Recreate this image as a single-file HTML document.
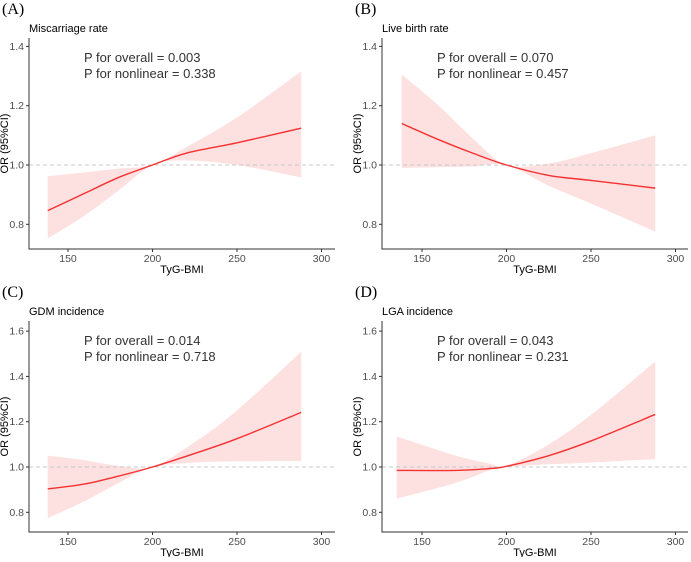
<!DOCTYPE html>
<html><head><meta charset="utf-8"><style>
body{margin:0;background:#fff;}
svg text{font-family:"Liberation Sans",sans-serif;}
</style></head><body>
<svg id="fig" width="691" height="557" viewBox="0 0 691 557" xmlns="http://www.w3.org/2000/svg"></svg>
<script>
// Panel A: Miscarriage rate
const xA = [138,160,180,200,220,250,288];
const lineA = [0.846,0.905,0.958,1.0,1.04,1.075,1.124];
const upA = [0.962,0.975,0.988,1.0,1.06,1.16,1.316];
const loA = [0.752,0.83,0.915,1.0,1.015,1.0,0.958];
// Panel B: Live birth rate
const xB = [138,160,180,200,225,250,288];
const lineB = [1.14,1.085,1.04,1.0,0.965,0.948,0.922];
const upB = [1.305,1.2,1.09,1.0,1.005,1.04,1.10];
const loB = [0.99,0.993,0.995,1.0,0.93,0.87,0.775];
// Panel C: GDM incidence
const xC = [138,160,180,200,225,250,288];
const lineC = [0.903,0.925,0.96,1.0,1.06,1.125,1.241];
const upC = [1.05,1.03,1.005,1.0,1.11,1.25,1.509];
const loC = [0.774,0.85,0.93,1.0,1.02,1.025,1.026];
// Panel D: LGA incidence
const xD = [135,170,190,200,225,250,288];
const lineD = [0.985,0.985,0.993,1.003,1.05,1.115,1.232];
const upD = [1.135,1.05,1.015,1.005,1.10,1.23,1.465];
const loD = [0.86,0.93,0.985,1.0,1.012,1.02,1.035];
const xTicks = [150,200,250,300];
const yTicksTop = [0.8,1.0,1.2,1.4];
const yTicksBot = [0.8,1.0,1.2,1.4,1.6];

const NS="http://www.w3.org/2000/svg";
const svg=document.getElementById('fig');
function mk(tag,attrs,parent){const e=document.createElementNS(NS,tag);for(const k in attrs)e.setAttribute(k,attrs[k]);(parent||svg).appendChild(e);return e;}
// Catmull-Rom smoothing of screen points -> path segments (without initial M)
function smooth(pts){
  let d='';
  for(let i=0;i<pts.length-1;i++){
    const p0=pts[Math.max(0,i-1)],p1=pts[i],p2=pts[i+1],p3=pts[Math.min(pts.length-1,i+2)];
    const c1=[p1[0]+(p2[0]-p0[0])/6,p1[1]+(p2[1]-p0[1])/6];
    const c2=[p2[0]-(p3[0]-p1[0])/6,p2[1]-(p3[1]-p1[1])/6];
    d+=`C${c1[0]},${c1[1]} ${c2[0]},${c2[1]} ${p2[0]},${p2[1]}`;
  }
  return d;
}

function panel(cfg){
  const g=mk('g',{});
  
  
  const sx=v=>cfg.x150+(v-150)*1.69;
  const sy=v=>cfg.y1+(1-v)*cfg.ky;
  const L=mk('text',{x:cfg.left-27,y:cfg.top-24,'font-size':16,fill:'#000',style:'font-family:"Liberation Serif",serif'},g);
  L.textContent=cfg.letter;
  
  
  const T=mk('text',{x:cfg.left,y:cfg.top-6,'font-size':11,fill:'#000'},g);
  T.textContent=cfg.title;
  
  
  // ribbon
  const up=cfg.xs.map((x,i)=>[sx(x),sy(cfg.up[i])]);
  const lo=cfg.xs.map((x,i)=>[sx(x),sy(cfg.lo[i])]).reverse();
  const d='M'+up[0][0]+','+up[0][1]+smooth(up)+'L'+lo[0][0]+','+lo[0][1]+smooth(lo)+'Z';
  const rib=mk('path',{d:d,fill:'#fde0e0'},g);
  
  
  const ref=mk('line',{x1:cfg.left,x2:cfg.right,y1:sy(1),y2:sy(1),stroke:'#c8c8c8','stroke-dasharray':'4,3','stroke-width':1},g);
  
  
  const lp=cfg.xs.map((x,i)=>[sx(x),sy(cfg.line[i])]);
  const ln=mk('path',{d:'M'+lp[0][0]+','+lp[0][1]+smooth(lp),fill:'none',stroke:'#f53030','stroke-width':1.4},g);
  
  
  const ax=mk('path',{d:`M${cfg.left},${cfg.top}V${cfg.bottom}H${cfg.right}`,fill:'none',stroke:'#333','stroke-width':1},g);
  
  
  cfg.yt.forEach(v=>{
    mk('line',{x1:cfg.left-3,x2:cfg.left,y1:sy(v),y2:sy(v),stroke:'#333'},g);
    const t=mk('text',{x:cfg.left-5,y:sy(v)+3.5,'font-size':10.5,fill:'#4d4d4d','text-anchor':'end'},g);
    t.textContent=v.toFixed(1);
    
    
  });
  xTicks.forEach(v=>{
    mk('line',{x1:sx(v),x2:sx(v),y1:cfg.bottom,y2:cfg.bottom+3,stroke:'#333'},g);
    const t=mk('text',{x:sx(v),y:cfg.bottom+13,'font-size':10.5,fill:'#4d4d4d','text-anchor':'middle'},g);
    t.textContent=v;
    
    
  });
  const xl=mk('text',{x:(cfg.left+cfg.right)/2,y:cfg.bottom+24,'font-size':11,fill:'#000','text-anchor':'middle'},g);
  xl.textContent='TyG-BMI';
  
  
  const cy=(cfg.top+cfg.bottom)/2;
  const yl=mk('text',{x:cfg.left-21,y:cy,'font-size':11,fill:'#000','text-anchor':'middle',transform:`rotate(-90 ${cfg.left-21} ${cy})`},g);
  yl.textContent='OR (95%CI)';
  
  
  cfg.p.forEach((s,i)=>{
    const t=mk('text',{x:cfg.left+55,y:cfg.top+24+i*16,'font-size':13,fill:'#333'},g);
    t.textContent=s;
    
    
  });
}
panel({id:'panel-a',letter:'(A)',title:'Miscarriage rate',left:29,right:335,top:38,bottom:249,x150:68,y1:165,ky:296.5,yt:yTicksTop,xs:xA,line:lineA,up:upA,lo:loA,p:['P for overall = 0.003','P for nonlinear = 0.338']});
panel({id:'panel-b',letter:'(B)',title:'Live birth rate',left:382,right:688,top:38,bottom:249,x150:422,y1:165,ky:296.5,yt:yTicksTop,xs:xB,line:lineB,up:upB,lo:loB,p:['P for overall = 0.070','P for nonlinear = 0.457']});
panel({id:'panel-c',letter:'(C)',title:'GDM incidence',left:29,right:335,top:321,bottom:532,x150:68,y1:467,ky:226.5,yt:yTicksBot,xs:xC,line:lineC,up:upC,lo:loC,p:['P for overall = 0.014','P for nonlinear = 0.718']});
panel({id:'panel-d',letter:'(D)',title:'LGA incidence',left:382,right:688,top:321,bottom:532,x150:422,y1:467,ky:226.5,yt:yTicksBot,xs:xD,line:lineD,up:upD,lo:loD,p:['P for overall = 0.043','P for nonlinear = 0.231']});
</script>
</body></html>
